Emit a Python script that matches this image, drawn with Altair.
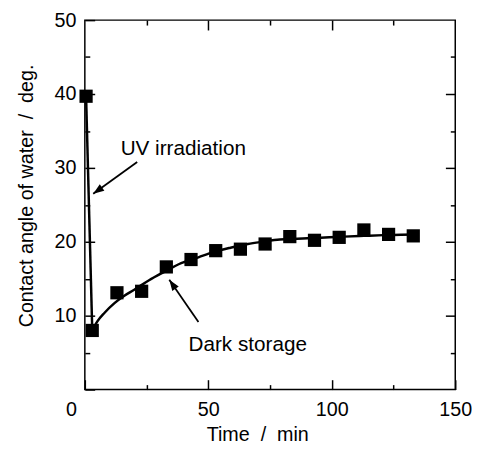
import altair as alt
import pandas as pd

FONT = "Liberation Sans"

# measured data (time in min, contact angle in deg)
time_min = [0.5, 3, 13, 23, 33, 43, 53, 63, 73, 83, 93, 103, 113, 123, 133]
angle_deg = [39.7, 8.0, 13.1, 13.3, 16.6, 17.6, 18.8, 19.0, 19.7, 20.7, 20.2, 20.6, 21.6, 21.0, 20.8]

# UV irradiation segment
uv_t = [0.5, 3]
uv_v = [39.7, 8.0]

# fitted dark-storage recovery curve
fit_t = [3, 5, 8, 12, 16, 20, 26, 32, 39, 46, 52, 59, 66, 72, 79, 86, 92, 99, 105, 113, 121, 128, 134]
fit_v = [8.0, 9.2, 10.4, 11.7, 12.7, 13.5, 14.8, 15.9, 17.1, 17.9, 18.6, 19.2, 19.7, 20.0, 20.3,
         20.4, 20.5, 20.6, 20.7, 20.8, 20.9, 20.95, 21.0]

# tick values
x_major = [0, 50, 100, 150]
x_major_top = [50, 100]
x_minor = [25, 75, 125]
y_major = [0, 10, 20, 30, 40, 50]
y_major_right = [10, 20, 30, 40]
y_minor = [5, 15, 25, 35, 45]

# annotations
label_text = ["UV irradiation", "Dark storage"]
label_t = [14.5, 42.0]
label_v = [31.7, 5.2]
arrow_t0 = [21.2, 46.0]
arrow_v0 = [30.8, 9.15]
arrow_t1 = [3.4, 34.2]
arrow_v1 = [26.5, 14.85]

pts = pd.DataFrame({"t": time_min, "v": angle_deg})
uv = pd.DataFrame({"t": uv_t, "v": uv_v})
fit = pd.DataFrame({"t": fit_t, "v": fit_v})
labels = pd.DataFrame({"t": label_t, "v": label_v, "txt": label_text})
arrows = pd.DataFrame({"t0": arrow_t0, "v0": arrow_v0, "t1": arrow_t1, "v1": arrow_v1})

xs = alt.Scale(domain=[0, 150], nice=False)
ys = alt.Scale(domain=[0, 50], nice=False)


def tick_axis(orient, values, size):
    return alt.Axis(orient=orient, values=values, tickSize=size, offset=-size,
                    labels=False, title=None, domain=False, grid=False)


fit_layer = alt.Chart(fit).mark_line(color="black", strokeWidth=2.5, interpolate="monotone").encode(
    x=alt.X("t:Q", scale=xs, axis=tick_axis("bottom", x_minor, 5)),
    y=alt.Y("v:Q", scale=ys, axis=tick_axis("left", y_minor, 5)),
)

uv_layer = alt.Chart(uv).mark_line(color="black", strokeWidth=2.5).encode(
    x=alt.X("t:Q", scale=xs, axis=tick_axis("top", x_major_top, 10)),
    y=alt.Y("v:Q", scale=ys, axis=tick_axis("right", y_major_right, 10)),
)

arrow_layer = alt.Chart(arrows).mark_rule(color="black", strokeWidth=1.8).encode(
    x=alt.X("t0:Q", scale=xs, axis=tick_axis("top", x_minor, 5)),
    y=alt.Y("v0:Q", scale=ys, axis=tick_axis("right", y_minor, 5)),
    x2="t1:Q",
    y2="v1:Q",
)

pts_layer = alt.Chart(pts).mark_square(size=180, color="black", opacity=1).encode(
    x=alt.X("t:Q", scale=xs, axis=alt.Axis(
        orient="bottom", values=x_major, tickSize=10, offset=-10, domain=False, grid=False,
        labelPadding=10, labelFlush=False,
        labelOffset={"condition": {"test": "datum.value == 0", "value": -14}, "value": 0},
        title="Time\u00a0\u00a0/\u00a0\u00a0min", titlePadding=6, titleX=175)),
    y=alt.Y("v:Q", scale=ys, axis=alt.Axis(
        orient="left", values=y_major, tickSize=10, offset=-10, domain=False, grid=False,
        labelPadding=9, labelFlush=False, labelExpr="datum.value == 0 ? '' : datum.label",
        title="Contact angle of water\u00a0\u00a0/\u00a0\u00a0deg.", titlePadding=18, titleY=178)),
)

head_path = "M0,0L-0.4,1.1L0.4,1.1Z"
uv_head = alt.Chart(arrows.iloc[[0]]).mark_point(
    shape=head_path, filled=True, size=400, color="black", opacity=1, angle=234.6).encode(
    x=alt.X("t1:Q", scale=xs, axis=None), y=alt.Y("v1:Q", scale=ys, axis=None))
dark_head = alt.Chart(arrows.iloc[[1]]).mark_point(
    shape=head_path, filled=True, size=400, color="black", opacity=1, angle=325.1).encode(
    x=alt.X("t1:Q", scale=xs, axis=None), y=alt.Y("v1:Q", scale=ys, axis=None))

text_layer = alt.Chart(labels).mark_text(
    align="left", baseline="alphabetic", fontSize=21, font=FONT, color="black").encode(
    x=alt.X("t:Q", scale=xs, axis=None),
    y=alt.Y("v:Q", scale=ys, axis=None),
    text="txt:N",
)

chart = alt.layer(
    fit_layer, uv_layer, arrow_layer, pts_layer, uv_head, dark_head, text_layer
).resolve_axis(x="independent", y="independent").properties(
    width=376, height=375,
    autosize=alt.AutoSizeParams(type="none"),
    padding={"left": 78, "top": 9, "right": 17, "bottom": 55},
).configure_view(stroke="black", strokeWidth=1.5).configure_axis(
    labelFont=FONT, titleFont=FONT, labelFontSize=20, titleFontSize=20,
    labelColor="black", titleColor="black", titleFontWeight="normal",
    tickColor="black", tickWidth=1.5,
)

chart.save("out.html", embed_options={"renderer": "svg", "actions": False})
